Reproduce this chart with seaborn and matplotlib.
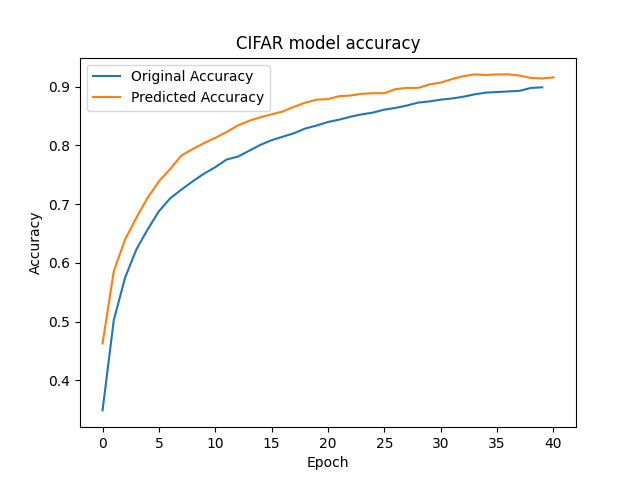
import matplotlib
matplotlib.use('Agg')
import matplotlib.pyplot as plt
import seaborn as sns

# Werte
original_acc = [0.349, 0.503, 0.575, 0.623, 0.657, 0.688, 0.710, 0.725, 0.739, 0.752,
                0.763, 0.776, 0.781, 0.791, 0.801, 0.809, 0.815, 0.821, 0.829, 0.834,
                0.840, 0.844, 0.849, 0.853, 0.856, 0.861, 0.864, 0.868, 0.873, 0.875,
                0.878, 0.880, 0.883, 0.887, 0.890, 0.891, 0.892, 0.893, 0.898, 0.899]
predicted_acc = [0.463, 0.586, 0.640, 0.677, 0.711, 0.739, 0.760, 0.783, 0.794, 0.804,
                 0.813, 0.823, 0.834, 0.842, 0.848, 0.853, 0.858, 0.866, 0.873, 0.878,
                 0.879, 0.884, 0.885, 0.888, 0.889, 0.889, 0.896, 0.898, 0.898, 0.904,
                 0.907, 0.913, 0.918, 0.921, 0.920, 0.921, 0.921, 0.919, 0.915, 0.914,
                 0.916]
epochs_orig = list(range(len(original_acc)))
epochs_pred = list(range(len(predicted_acc)))

fig, ax = plt.subplots(figsize=(6.4, 4.8), dpi=100)
sns.lineplot(x=epochs_orig, y=original_acc, ax=ax, label='Original Accuracy', color='C0')
sns.lineplot(x=epochs_pred, y=predicted_acc, ax=ax, label='Predicted Accuracy', color='C1')
ax.set_title('CIFAR model accuracy')
ax.set_xlabel('Epoch')
ax.set_ylabel('Accuracy')
ax.legend(loc='upper left')

plt.savefig('out.png')
